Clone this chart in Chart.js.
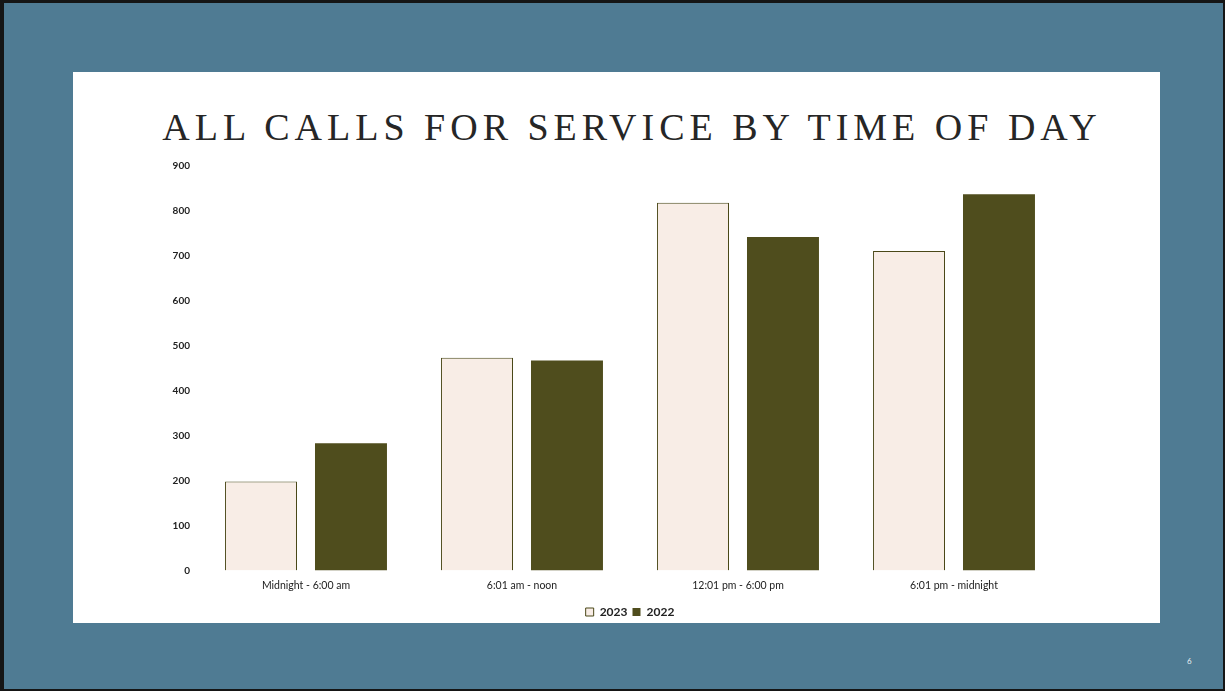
<!DOCTYPE html>
<html>
<head>
<meta charset="utf-8">
<script src="https://cdn.jsdelivr.net/npm/chart.js@4"></script>
<style>
  html, body { margin: 0; padding: 0; }
  body {
    width: 1225px; height: 691px; box-sizing: border-box;
    background: #4f7b93;
    border-top: 3px solid #151515; border-left: 4px solid #151515;
    border-right: 2px solid #151515; border-bottom: 2px solid #151515;
    position: relative; overflow: hidden;
  }
  #panel { position: absolute; left: 69px; top: 69px; width: 1087px; height: 551px; background: #fff; }
  #title {
    position: absolute; left: 156px; top: 105px; width: 944px; text-align: center;
    font-family: "Liberation Serif", serif; font-size: 38px; line-height: 38px;
    letter-spacing: 5px; color: #262626; white-space: nowrap;
  }
  #wrap { position: absolute; left: 69px; top: 147px; width: 1087px; height: 480px; }
  #pagenum { position: absolute; left: 1183px; top: 653px; font: 8px Lato, sans-serif; color: #e6eef2; }
</style>
</head>
<body>
<div id="panel"></div>
<div id="title">ALL CALLS FOR SERVICE BY TIME OF DAY</div>
<div id="wrap"><canvas id="myChart"></canvas></div>
<div id="pagenum">6</div>
<script>
// Time-of-day buckets along the x-axis
var periods = ["Midnight - 6:00 am", "6:01 am - noon", "12:01 pm - 6:00 pm", "6:01 pm - midnight"];
// Calls for service per year
var calls2023 = [198, 473, 818, 711];
var calls2022 = [283, 467, 742, 837];

var ctx = document.getElementById("myChart");
var myChart = new Chart(ctx, {
  type: 'bar',
  data: {
    labels: periods,
    datasets: [
      {
        label: "2023",
        data: calls2023,
        backgroundColor: "#f8ede6",
        borderColor: "#4a4818",
        borderWidth: 1
      },
      {
        label: "2022",
        data: calls2022,
        backgroundColor: "#4f4d1d",
        borderColor: "#4f4d1d",
        borderWidth: 0
      }
    ]
  },
  options: {
    responsive: true,
    maintainAspectRatio: false,
    animation: false,
    categoryPercentage: 0.833,
    barPercentage: 0.8,
    layout: { padding: { left: 0, right: 98, top: 16, bottom: 2 } },
    plugins: {
      tooltip: { enabled: false },
      legend: {
        position: 'bottom',
        fullSize: false, // centre under the plot area, as on the slide
        labels: {
          boxWidth: 8, boxHeight: 8, padding: 5, color: "#222",
          font: { family: "Lato", size: 12, weight: "bold" }
        }
      }
    },
    scales: {
      x: {
        grid: { display: false, drawTicks: false },
        border: { display: false },
        ticks: { color: "#222", padding: 9, maxRotation: 0, font: { family: "Lato", size: 10.5 } }
      },
      y: {
        min: 0, max: 900,
        afterFit: function (scale) { scale.width = 125; },
        grid: { display: false, drawTicks: false },
        border: { display: false },
        ticks: { stepSize: 100, color: "#222", padding: 8, font: { family: "Lato", size: 10, weight: "bold" } }
      }
    }
  }
});
</script>
</body>
</html>
